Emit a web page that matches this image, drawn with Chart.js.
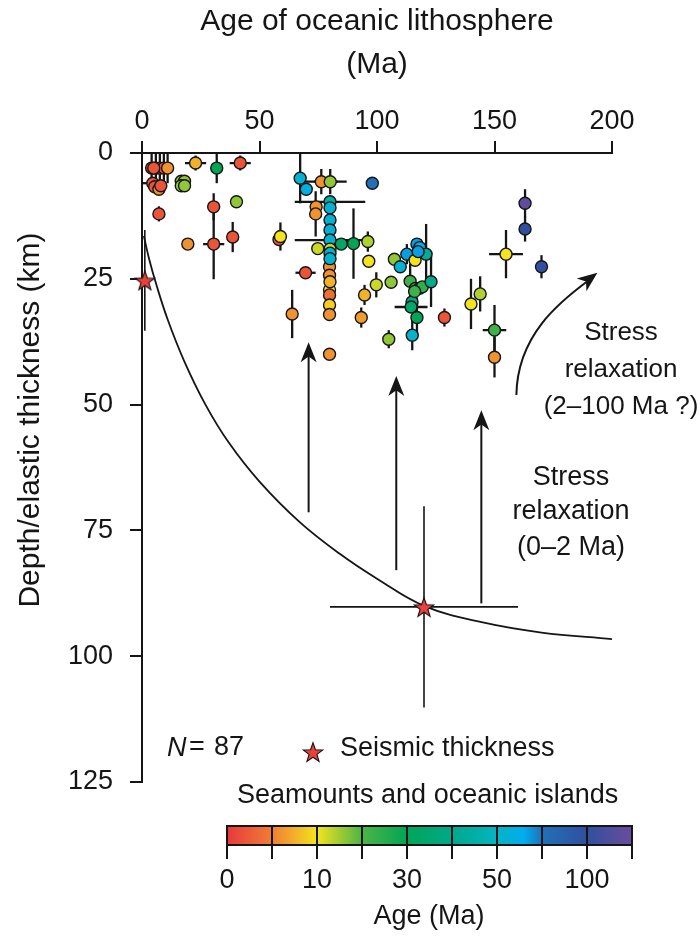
<!DOCTYPE html>
<html>
<head>
<meta charset="utf-8">
<script src="https://cdn.jsdelivr.net/npm/chart.js@4.4.1/dist/chart.umd.min.js"></script>
<style>
  html, body { margin: 0; background: #fff; }
</style>
</head>
<body>
<canvas id="chart" width="700" height="936"></canvas>
<script>
// seamount / oceanic island estimates: lithosphere age at loading (Ma), elastic thickness (km)
const lithAge = [4.1, 5.9, 7.6, 9.3, 10.9, 4.6, 5.4, 7.2, 16.7, 18.1, 16.7, 18.1, 22.8, 31.8, 41.8, 7.2, 30.5, 30.5, 40.2, 38.6,
  19.5, 67.3, 69.9, 76.3, 80.1, 98.0, 74.1, 73.9, 80.0, 80.0, 80.0, 80.0, 80.0, 80.0, 80.0, 84.8, 90.0, 96.1, 74.8, 96.5,
  69.6, 79.8, 79.8, 79.8, 79.8, 79.8, 79.8, 79.8, 63.9, 94.7, 93.3, 99.7, 58.3, 58.9, 106.0, 105.0, 128.7, 117.0, 118.2, 107.4,
  112.7, 116.2, 120.9, 109.9, 114.1, 116.4, 118.1, 119.3, 123.0, 114.9, 114.5, 117.0, 115.0, 140.0, 143.9, 150.0, 150.0, 163.0, 163.0, 154.9,
  170.0, 80.0, 80.0, 5.0, 117.5, 116.0, 8.0];
const elasticT = [3.0, 3.0, 3.0, 3.0, 3.0, 6.0, 6.7, 7.2, 5.6, 5.6, 6.5, 6.5, 2.0, 3.0, 2.0, 12.1, 10.7, 18.1, 9.7, 16.7,
  18.1, 5.0, 7.2, 5.7, 5.7, 6.0, 10.7, 12.1, 9.7, 10.9, 13.3, 15.3, 17.3, 19.1, 19.9, 18.1, 18.0, 17.6, 19.0, 21.5,
  23.8, 22.6, 24.3, 27.2, 28.2, 30.2, 32.1, 40.0, 32.0, 28.2, 32.7, 26.2, 17.2, 16.6, 25.7, 37.0, 32.7, 18.1, 18.8, 21.1,
  20.1, 21.3, 20.1, 22.6, 25.5, 26.9, 26.9, 26.6, 25.6, 29.6, 30.6, 32.7, 36.2, 30.0, 28.0, 35.2, 40.6, 10.0, 15.1, 20.1,
  22.6, 21.0, 25.6, 3.0, 19.6, 27.5, 6.5];
const ageErr = [0, 0, 0, 0, 0, 4.3, 0, 0, 0, 0, 0, 0, 4.5, 0, 4.5, 0, 0, 4.5, 0, 0,
  0, 0, 0, 7, 7, 0, 0, 0, 15, 0, 0, 0, 15, 0, 0, 0, 0, 2, 0, 0,
  4.3, 0, 0, 0, 0, 0, 0, 0, 0, 0, 0, 0, 0, 0, 0, 0, 0, 0, 0, 0,
  0, 0, 0, 0, 0, 0, 0, 0, 0, 0, 7, 0, 0, 0, 0, 5, 0, 0, 0, 7.2,
  0, 0, 0, 0, 0, 0, 0];
const thickErr = [3, 3, 3, 3, 3, 0, 0, 0, 0, 0, 0, 0, 1.5, 3, 1.5, 1.5, 2.7, 7, 0, 3,
  0, 5, 0, 2.5, 2.5, 0, 0, 4.5, 0, 0, 0, 0, 0, 0, 0, 0, 7, 2, 0, 0,
  0, 0, 0, 0, 0, 0, 0, 0, 4.8, 2, 2, 2.5, 0, 2.8, 0, 1.8, 1.8, 0, 0, 0,
  2, 0, 6, 0, 3.5, 0, 0, 0, 5, 0, 0, 4, 3, 5, 3.5, 5, 4, 2.8, 2.5, 4.8,
  2.3, 0, 0, 0, 0, 0, 0];
// age of the seamount / island itself (Ma), sets the colour
const loadAge = [2, 2, 2, 2, 6, 2, 2, 6, 16, 16, 16, 16, 7.5, 30, 2, 2, 2, 2, 16, 2,
  6, 54, 58, 6, 16, 70, 6, 6, 45, 54, 54, 54, 54, 12.5, 54, 33, 30, 14, 12.5, 10,
  2, 6, 6, 10, 4, 9, 6, 6, 6, 7.5, 6.5, 12.5, 2, 10, 16, 16, 2, 64, 60, 16,
  64, 10, 42, 55, 22, 22, 22, 24, 40, 38, 34, 30, 52, 10, 14, 22, 6, 140, 100, 10,
  100, 54, 7.5, 2, 64, 22, 2];

// seismic thickness
const seismicAge = [1.2, 120];
const seismicThick = [25.3, 90.2];
const seismicAgeErr = [0, 40];
const seismicThickErr = [10, 20];

// thickness curve
const curveAge = [0.8, 3, 6, 11, 18, 27, 37, 50, 67, 84, 100, 120, 145, 170, 200];
const curveThick = [16.5, 21, 26, 33.2, 41.4, 50, 57.6, 65.3, 73.3, 79.6, 84.6, 90, 93.3, 95.3, 96.6];

const xTicks = [0, 50, 100, 150, 200];
const yTicks = [0, 25, 50, 75, 100, 125];

// colour bar
const cbTicks = [0, 5, 10, 20, 30, 40, 50, 70, 100, 150];
const cbLabels = ['0', '', '10', '', '30', '', '50', '', '100', ''];
const cbStops = [[0, '#e8393c'], [1, '#f07d35'], [2, '#f4e41d'], [3, '#4db447'], [4, '#00a655'],
  [5, '#00a98a'], [6, '#05b4c2'], [6.6, '#00aeef'], [7, '#2170b8'], [8, '#30509f'], [9, '#6a4c9c']];

// stress relaxation arrows (age, from thickness, to thickness)
const relaxArrows = [[70.9, 71.4, 37.6], [108.2, 82.9, 44.3], [144.4, 89.5, 51.1]];
const longArrow = [[159.3, 48.1], [159.7, 36.2], [177.6, 29.6], [193.8, 23.8]];

const FONT = '"Liberation Sans", Arial, Helvetica, sans-serif';
const INK = '#151515';

function hexRgb(h) {
  return [parseInt(h.slice(1, 3), 16), parseInt(h.slice(3, 5), 16), parseInt(h.slice(5, 7), 16)];
}

function cbPos(age) {
  for (let i = 0; i < cbTicks.length - 1; i++) {
    if (age <= cbTicks[i + 1]) return i + (age - cbTicks[i]) / (cbTicks[i + 1] - cbTicks[i]);
  }
  return cbTicks.length - 1;
}

function cbColor(age) {
  const p = cbPos(age);
  for (let i = 0; i < cbStops.length - 1; i++) {
    const [p0, c0] = cbStops[i], [p1, c1] = cbStops[i + 1];
    if (p <= p1) {
      const t = (p - p0) / (p1 - p0);
      const a = hexRgb(c0), b = hexRgb(c1);
      return `rgb(${a.map((v, k) => Math.round(v + (b[k] - v) * t)).join(',')})`;
    }
  }
  return cbStops[cbStops.length - 1][1];
}

function makeStar(size) {
  const c = document.createElement('canvas');
  c.width = c.height = size;
  const g = c.getContext('2d');
  const cx = size / 2, cy = size / 2 + size * 0.05, R = size * 0.47, r = R * 0.4;
  g.beginPath();
  for (let i = 0; i < 10; i++) {
    const a = -Math.PI / 2 + i * Math.PI / 5;
    const rad = i % 2 ? r : R;
    g.lineTo(cx + rad * Math.cos(a), cy + rad * Math.sin(a));
  }
  g.closePath();
  g.fillStyle = '#e8413c';
  g.fill();
  g.lineWidth = 1.1;
  g.strokeStyle = INK;
  g.stroke();
  return c;
}
const starImg = makeStar(22);

function arrowHead(ctx, x, y, ang, len, wid) {
  ctx.save();
  ctx.translate(x, y);
  ctx.rotate(ang);
  ctx.beginPath();
  ctx.moveTo(0, 0);
  ctx.lineTo(-len, wid / 2);
  ctx.lineTo(-len * 0.72, 0);
  ctx.lineTo(-len, -wid / 2);
  ctx.closePath();
  ctx.fill();
  ctx.restore();
}

const errorBars = {
  id: 'errorBars',
  beforeDatasetsDraw(chart) {
    const { ctx, scales: { x, y } } = chart;
    ctx.save();
    ctx.strokeStyle = INK;
    const bars = (xs, ys, xe, ye, lw) => {
      ctx.lineWidth = lw;
      xs.forEach((v, i) => {
        const px = x.getPixelForValue(v), py = y.getPixelForValue(ys[i]);
        ctx.beginPath();
        if (xe[i]) {
          ctx.moveTo(x.getPixelForValue(v - xe[i]), py);
          ctx.lineTo(x.getPixelForValue(v + xe[i]), py);
        }
        if (ye[i]) {
          ctx.moveTo(px, y.getPixelForValue(Math.max(0, ys[i] - ye[i])));
          ctx.lineTo(px, y.getPixelForValue(ys[i] + ye[i]));
        }
        ctx.stroke();
      });
    };
    bars(lithAge, elasticT, ageErr, thickErr, 2.3);
    bars(seismicAge, seismicThick, seismicAgeErr, seismicThickErr, 1.6);

    // relaxation arrows
    ctx.fillStyle = INK;
    ctx.lineWidth = 2;
    relaxArrows.forEach(([a, t0, t1]) => {
      const px = x.getPixelForValue(a);
      const y0 = y.getPixelForValue(t0), y1 = y.getPixelForValue(t1);
      ctx.beginPath();
      ctx.moveTo(px, y0);
      ctx.lineTo(px, y1 + 12);
      ctx.stroke();
      arrowHead(ctx, px, y1, -Math.PI / 2, 20, 16);
    });
    const p = longArrow.map(([a, t]) => [x.getPixelForValue(a), y.getPixelForValue(t)]);
    ctx.beginPath();
    ctx.moveTo(p[0][0], p[0][1]);
    ctx.bezierCurveTo(p[1][0], p[1][1], p[2][0], p[2][1], p[3][0] - 8, p[3][1] + 7);
    ctx.stroke();
    arrowHead(ctx, p[3][0], p[3][1], Math.atan2(p[3][1] - p[2][1], p[3][0] - p[2][0]), 20, 16);
    ctx.restore();
  }
};

const decorations = {
  id: 'decorations',
  afterDraw(chart) {
    const ctx = chart.ctx;
    ctx.save();
    ctx.fillStyle = INK;
    ctx.textBaseline = 'middle';
    ctx.textAlign = 'center';

    // y axis title
    ctx.font = `30px ${FONT}`;
    ctx.save();
    ctx.translate(31, 420);
    ctx.rotate(-Math.PI / 2);
    ctx.fillText('Depth/elastic thickness (km)', 0, 0);
    ctx.restore();

    ctx.font = `26px ${FONT}`;
    [['Stress', 333], ['relaxation', 370], ['(2\u2013100 Ma ?)', 407]].forEach(([s, yy]) => ctx.fillText(s, 621, yy));
    ctx.font = `27px ${FONT}`;
    [['Stress', 478], ['relaxation', 512], ['(0\u20132 Ma)', 548]].forEach(([s, yy]) => ctx.fillText(s, 571, yy));

    // legend
    ctx.textAlign = 'left';
    ctx.font = `italic 27px ${FONT}`;
    ctx.fillText('N', 167, 748);
    ctx.font = `27px ${FONT}`;
    ctx.fillText('=', 189, 748);
    ctx.fillText('87', 214, 748);
    ctx.drawImage(starImg, 302, 741);
    ctx.fillText('Seismic thickness', 340, 749);
    ctx.fillText('Seamounts and oceanic islands', 237, 796);

    // colour bar
    const x0 = 227, x1 = 632, top = 826, bot = 845, n = cbTicks.length - 1;
    const grad = ctx.createLinearGradient(x0, 0, x1, 0);
    cbStops.forEach(([p, c]) => grad.addColorStop(p / n, c));
    ctx.fillStyle = grad;
    ctx.fillRect(x0, top, x1 - x0, bot - top);
    ctx.strokeStyle = INK;
    ctx.lineWidth = 2;
    ctx.strokeRect(x0, top, x1 - x0, bot - top);
    ctx.fillStyle = INK;
    ctx.textAlign = 'center';
    cbTicks.forEach((t, i) => {
      const px = x0 + (x1 - x0) * i / n;
      ctx.beginPath();
      ctx.moveTo(px, top);
      ctx.lineTo(px, bot + 14);
      ctx.stroke();
      if (cbLabels[i]) ctx.fillText(cbLabels[i], px, 881);
    });
    ctx.fillText('Age (Ma)', 429, 917);
    ctx.restore();
  }
};

const seamountPts = lithAge.map((v, i) => ({ x: v, y: elasticT[i] }));
const seismicPts = seismicAge.map((v, i) => ({ x: v, y: seismicThick[i] }));
const curvePts = curveAge.map((v, i) => ({ x: v, y: curveThick[i] }));

new Chart(document.getElementById('chart'), {
  type: 'scatter',
  data: {
    datasets: [
      {
        label: 'Seismic thickness',
        data: seismicPts,
        pointStyle: starImg,
        clip: false,
        order: 0
      },
      {
        label: 'Seamounts and oceanic islands',
        data: seamountPts,
        pointRadius: 6,
        pointBorderWidth: 1.4,
        pointBorderColor: INK,
        pointBackgroundColor: loadAge.map(cbColor),
        clip: false,
        order: 1
      },
      {
        label: 'curve',
        type: 'line',
        data: curvePts,
        borderColor: INK,
        borderWidth: 1.8,
        pointRadius: 0,
        tension: 0.4,
        fill: false,
        order: 2
      }
    ]
  },
  options: {
    responsive: false,
    animation: false,
    events: [],
    layout: { padding: { top: 0, left: 0, right: 88, bottom: 154 } },
    plugins: { legend: { display: false }, tooltip: { enabled: false } },
    scales: {
      x: {
        type: 'linear',
        position: 'top',
        min: 0,
        max: 200,
        afterBuildTicks: s => { s.ticks = xTicks.map(v => ({ value: v })); },
        afterFit: s => { s.height = 153; },
        ticks: { font: { family: FONT, size: 27 }, color: INK, padding: 3, maxRotation: 0 },
        grid: { drawOnChartArea: false, tickLength: 12, color: INK, lineWidth: 2 },
        border: { display: true, color: INK, width: 2 },
        title: {
          display: true,
          text: ['Age of oceanic lithosphere', '(Ma)'],
          font: { family: FONT, size: 30, lineHeight: 1.43 },
          color: INK,
          padding: { top: 0, bottom: 0 }
        }
      },
      y: {
        type: 'linear',
        position: 'left',
        reverse: true,
        min: 0,
        max: 125,
        afterBuildTicks: s => { s.ticks = yTicks.map(v => ({ value: v })); },
        afterFit: s => { s.width = 142; },
        ticks: { font: { family: FONT, size: 27 }, color: INK, padding: 17 },
        grid: { drawOnChartArea: false, tickLength: 12, color: INK, lineWidth: 2 },
        border: { display: true, color: INK, width: 2 }
      }
    }
  },
  plugins: [errorBars, decorations]
});
</script>
</body>
</html>
